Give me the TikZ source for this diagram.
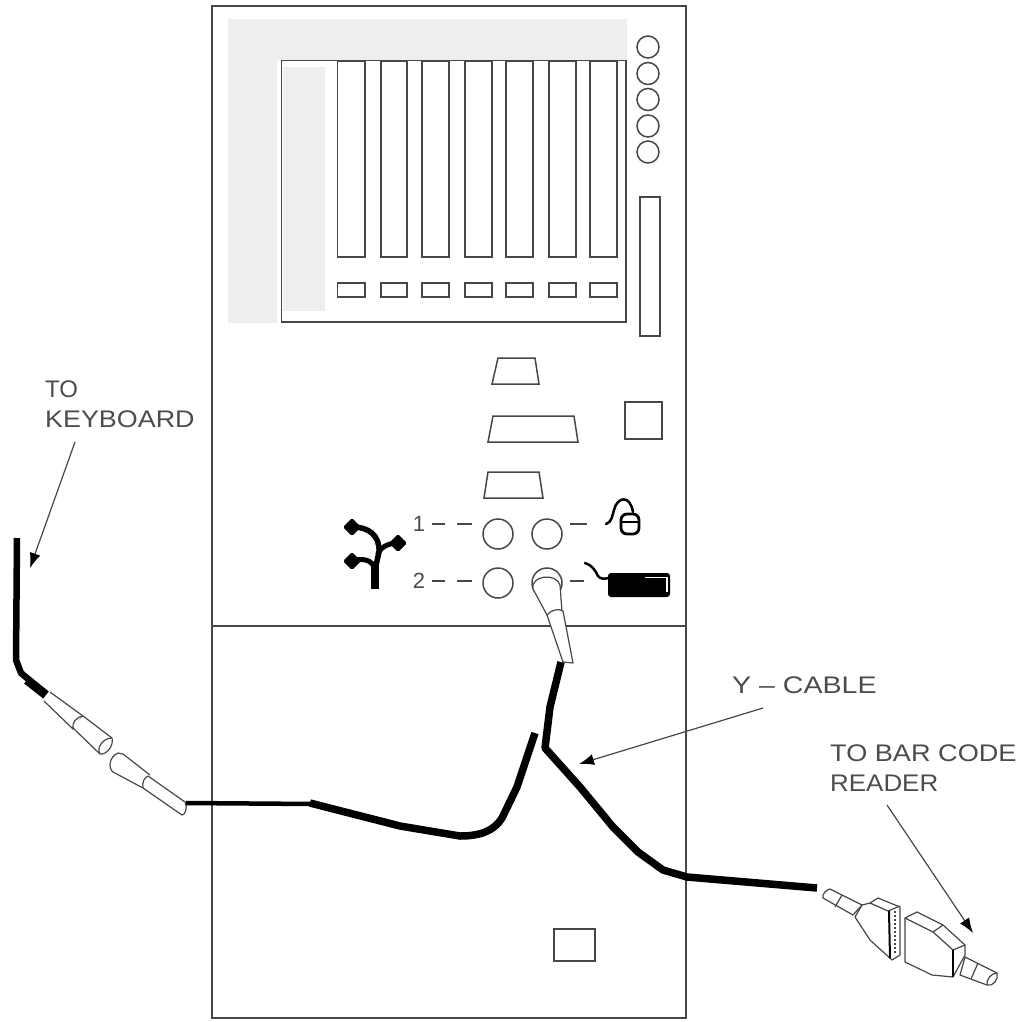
\documentclass[tikz,border=0pt]{standalone}
\usepackage{fontspec}
\usepackage{graphicx}
\setmainfont{Liberation Sans}
\usetikzlibrary{arrows.meta}
\definecolor{ln}{gray}{0.28}
\definecolor{panelgray}{gray}{0.935}
\definecolor{txt}{gray}{0.3}
\tikzset{
  part/.style={draw=ln,line width=1.5pt,line join=miter},
  thin part/.style={draw=ln,line width=1.2pt,line join=round,fill=white},
  cable/.style={draw=black,line width=7.5pt,line join=round},
  label text/.style={text=txt,font=\fontsize{24}{24}\selectfont,inner sep=0pt,anchor=base west},
  pointer/.style={draw=ln,line width=1.2pt,-{Latex[length=15pt,width=11pt,color=black]}},
  icon/.style={draw=black,line width=2pt,line cap=round},
  portdash/.style={draw=ln,line width=1.5pt},
}
\newcommand{\slotpair}[2]{%
  \draw[part] (#1,61) rectangle (#2,257);
  \draw[part] (#1,283) rectangle (#2,297);
}
\begin{document}
\begin{tikzpicture}[x=1pt,y=-1pt]
\useasboundingbox (0,0) rectangle (1023,1021);
% shaded areas
\fill[panelgray] (228,19) -- (627,19) -- (627,60) -- (277,60) -- (277,323) -- (228,323) -- cycle;
\fill[panelgray] (283,67) rectangle (325,311);
% cabinet
\draw[part] (212,6) rectangle (686,1018);
\draw[part] (212,626) -- (686,626);
% card cage
\draw[part] (281.5,60.5) rectangle (626,322);
\slotpair{337.5}{365}
\slotpair{381}{407}
\slotpair{422}{449}
\slotpair{465}{492}
\slotpair{506}{533}
\slotpair{549}{576}
\slotpair{590}{617}
% indicators
\foreach \yy in {47,73.5,99.5,126,152}{\draw[part] (648,\yy) circle (11);}
\draw[part] (640,197) rectangle (660,336);
% ports
\draw[part] (498,358) -- (535,358) -- (539,384) -- (492,384) -- cycle;
\draw[part] (493,416) -- (574,416) -- (578,442) -- (488,442) -- cycle;
\draw[part] (488,472) -- (539,472) -- (543,498) -- (484,498) -- cycle;
\draw[part] (625,402) rectangle (662,439);
\draw[part] (554,929) rectangle (595,961);
% round ports
\draw[part] (498,534) circle (15);
\draw[part] (547,534) circle (15);
\draw[part] (498,583) circle (15);
\draw[part] (547,583) circle (15);
\node[text=txt,font=\fontsize{22}{22}\selectfont,inner sep=0pt] (one) at (419,524) {1};
\node[text=txt,font=\fontsize{22}{22}\selectfont,inner sep=0pt] (two) at (419,581) {2};
\draw[portdash] (432,524) -- (445,524) (457,524) -- (472,524) (570,524) -- (587,524);
\draw[portdash] (432,581) -- (445,581) (457,581) -- (472,581) (570,581) -- (584,581);
% Y icon
\draw[draw=black,line width=8pt] (375,589) -- (375,564);
\draw[icon,line width=5.5pt] (353,527) .. controls (368,527) and (380,535) .. (379,552) -- (375,570);
\draw[icon,line width=5pt] (398,543) .. controls (390,543) and (382,546) .. (378,553);
\draw[icon,line width=5pt] (352,561) .. controls (362,558) and (373,559) .. (375,570);
\fill[rounded corners=1.5pt] (343,527) -- (352,518) -- (361,527) -- (352,536) -- cycle;
\fill[rounded corners=1.5pt] (389,543) -- (398,534) -- (407,543) -- (398,552) -- cycle;
\fill[rounded corners=1.5pt] (343,561) -- (352,552) -- (361,561) -- (352,570) -- cycle;
% mouse icon
\draw[icon,line width=2.5pt] (606,524) .. controls (612,522) and (612,516) .. (614,510)
  .. controls (617,497) and (630,494) .. (633,512);
\draw[draw=black,line width=2.8pt,rounded corners=6pt] (621,514) rectangle (639,534);
\draw[black,line width=2pt] (621,522) -- (639,522);
% keyboard icon
\draw[icon,line width=2.5pt] (585,563) .. controls (592,565) and (595,570) .. (598,576) .. controls (600,579) and (604,579) .. (609,578);
\fill[black,rounded corners=3pt] (608,573) rectangle (670,597);
\draw[white,line width=1.6pt] (645,577.5) -- (667,577.5) -- (667,592);
% plug in keyboard port
\draw[thin part] (533,589) .. controls (530,576) and (556,572) .. (560,585) -- (562,612) -- (547,615) -- cycle;
\draw[thin part] (547,615) -- (563,662) -- (573,663) -- (563,611) .. controls (558,608) and (551,610) .. (547,615);
% Y cable
\draw[cable] (561,662) -- (550,707) -- (545,748) -- (580,787) -- (613,827) -- (638,852) -- (663,870) -- (687,877) -- (817,888);
\draw[cable] (535,733) -- (517,787) -- (502,818) .. controls (494,831) and (480,836) .. (460,836)
  -- (400,826) -- (310,803);
\draw[cable,line width=4.5pt] (315,804) -- (186,803);
% keyboard side cable
\draw[cable,line width=6.5pt] (17,538) -- (16,660) -- (21,673) -- (46,694);
\draw[cable,line width=9pt,line cap=butt] (27,680) -- (46,695);
% keyboard connector, left half
\draw[thin part] (50,692) -- (83,716) -- (73,729) -- (44,701);
\draw[thin part] (83,716) -- (112,738) .. controls (114,745) and (107,755) .. (100,754) -- (72,727);
\draw[thin part] (100,754) .. controls (96,748) and (103,738) .. (112,738);
\draw[ln,line width=1.2pt] (83,716) .. controls (76,717) and (72,723) .. (73,728);
% keyboard connector, right half
\draw[thin part] (143,788) -- (113,772) .. controls (108,768) and (109,757) .. (118,753) -- (123,754) -- (150,775);
\draw[thin part] (148,776) -- (185,802) .. controls (188,808) and (185,815) .. (182,815) -- (143,788) .. controls (142,782) and (144,778) .. (148,776);
% bar code connector, left half
\draw[thin part] (830,889) -- (862,905) -- (853,915) -- (823,898) .. controls (822,894) and (826,890) .. (830,889);
\draw[ln,line width=1.2pt] (842,895) -- (835,907);
\draw[thin part] (862,905) -- (870,903) -- (878,898) -- (900,907) -- (900,955) -- (892,960) -- (870,940) -- (855,917) -- cycle;
\draw[ln,line width=1.2pt] (870,903) -- (888,911) -- (900,906);
\draw[black,line width=2pt] (889,911) -- (890,958);
\draw[ln,line width=1.5pt,dash pattern=on 2pt off 2pt] (895,911) -- (895,955);
% bar code connector, right half
\draw[thin part] (905,918) -- (917,912) -- (943,925) -- (965,945) -- (965,955) -- (953,977) -- (932,975) -- (905,962) -- cycle;
\draw[ln,line width=1.2pt] (905,918) -- (933,932) -- (943,925);
\draw[ln,line width=1.2pt] (933,932) -- (953,950) -- (965,945);
\draw[black,line width=2pt] (953,950) -- (953,977);
\draw[thin part] (965,957) -- (997,973) .. controls (999,979) and (993,987) .. (987,985) -- (960,975) -- cycle;
\draw[ln,line width=1.2pt] (978,963) -- (971,979);
\draw[ln,line width=1.2pt] (997,973) .. controls (991,973) and (986,980) .. (987,985);
% labels
\node[label text] (tk1) at (45,397) {TO};
\node[label text] (tk2) at (45,427) {\scalebox{1.12}[1]{KEYBOARD}};
\node[label text] (yc) at (732,693) {\scalebox{1.19}[1]{Y – CABLE}};
\node[label text] (tb1) at (830,761) {\scalebox{1.13}[1]{TO BAR CODE}};
\node[label text] (tb2) at (830,791) {\scalebox{1.08}[1]{READER}};
% pointers
\coordinate (kbtip) at (30,568);
\coordinate (yctip) at (579,764);
\coordinate (bctip) at (973,933);
\draw[pointer] (75,442) -- (kbtip);
\draw[pointer] (763,708) -- (yctip);
\draw[pointer] (887,805) -- (bctip);
\end{tikzpicture}
\end{document}
